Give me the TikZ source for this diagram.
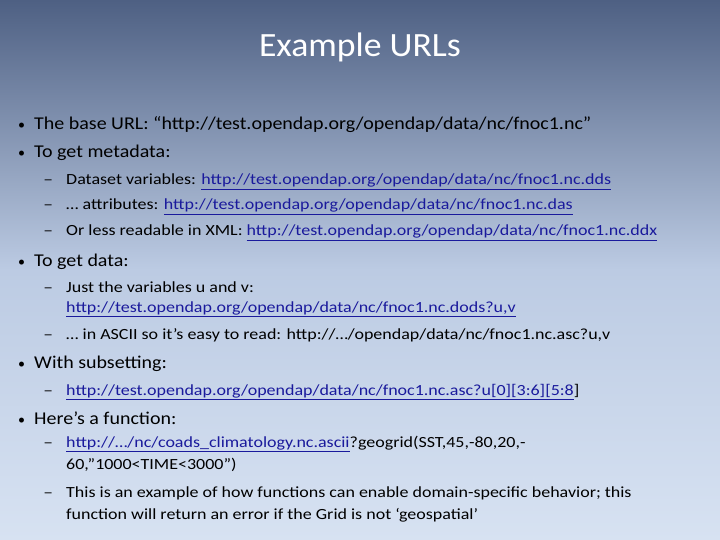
\documentclass[tikz,border=0pt]{standalone}
\usepackage{fontspec}
\setmainfont{Carlito}
\definecolor{topc}{HTML}{4E6083}
\definecolor{midc}{HTML}{BCCBE3}
\definecolor{botc}{HTML}{D7E2F2}
\definecolor{link}{HTML}{1A1A9C}
\newcommand{\lnk}[1]{\textcolor{link}{\underline{#1}}}
\begin{document}
\begin{tikzpicture}[x=1pt,y=-1pt,
  main/.style={anchor=base west,inner sep=0pt,font=\fontsize{18}{22}\selectfont,xscale=1.11,transform shape},
  sub/.style={anchor=base west,inner sep=0pt,font=\fontsize{15.5}{18}\selectfont,xscale=1.16,transform shape},
  bul/.style={anchor=base west,inner sep=0pt,font=\fontsize{14}{22}\selectfont},
  dsh/.style={anchor=base west,inner sep=0pt,font=\fontsize{15}{18}\selectfont,xscale=1.3,transform shape}]
\shade[top color=topc,bottom color=botc,middle color=midc] (0,0) rectangle (720,540);
\useasboundingbox (0,0) rectangle (720,540);
\node[text=white,font=\fontsize{34}{40}\selectfont,inner sep=0pt,xscale=1.05,transform shape] (title) at (360,47) {Example URLs};
% main bullets
\foreach \y/\n in {130/b1,158/b2,266/b3,368/b4,424/b5}{\node[bul] (\n) at (18,\y) {•};}
\node[main] (t1) at (34,130) {The base URL: “http://test.opendap.org/opendap/data/nc/fnoc1.nc”};
\node[main] (t2) at (34,158) {To get metadata:};
\node[main] (t3) at (34,266) {To get data:};
\node[main] (t4) at (34,368) {With subsetting:};
\node[main] (t5) at (34,424) {Here’s a function:};
% dashes
\foreach \y/\n in {185/d1,210/d2,236/d3,292/d4,339/d5,395/d6,447/d7,497/d8}{\node[dsh] (\n) at (43,\y) {–};}
\node[sub] (s1) at (66,185) {Dataset variables: \lnk{http://test.opendap.org/opendap/data/nc/fnoc1.nc.dds}};
\node[sub] (s2) at (66,210) {… attributes: \lnk{http://test.opendap.org/opendap/data/nc/fnoc1.nc.das}};
\node[sub] (s3) at (66,236) {Or less readable in XML: \lnk{http://test.opendap.org/opendap/data/nc/fnoc1.nc.ddx}};
\node[sub] (s4) at (66,292) {Just the variables u and v:};
\node[sub] (s4b) at (66,312) {\lnk{http://test.opendap.org/opendap/data/nc/fnoc1.nc.dods?u,v}};
\node[sub] (s5) at (66,339) {… in ASCII so it’s easy to read: http://…/opendap/data/nc/fnoc1.nc.asc?u,v};
\node[sub] (s6) at (66,395) {\lnk{http://test.opendap.org/opendap/data/nc/fnoc1.nc.asc?u[0][3:6][5:8}]};
\node[sub] (s7) at (66,447) {\lnk{http://…/nc/coads\_climatology.nc.ascii}?geogrid(SST,45,-80,20,-};
\node[sub] (s7b) at (66,469) {60,”1000<TIME<3000”)};
\node[sub] (s8) at (66,497) {This is an example of how functions can enable domain-specific behavior; this};
\node[sub] (s8b) at (66,519) {function will return an error if the Grid is not ‘geospatial’};
\end{tikzpicture}
\end{document}
